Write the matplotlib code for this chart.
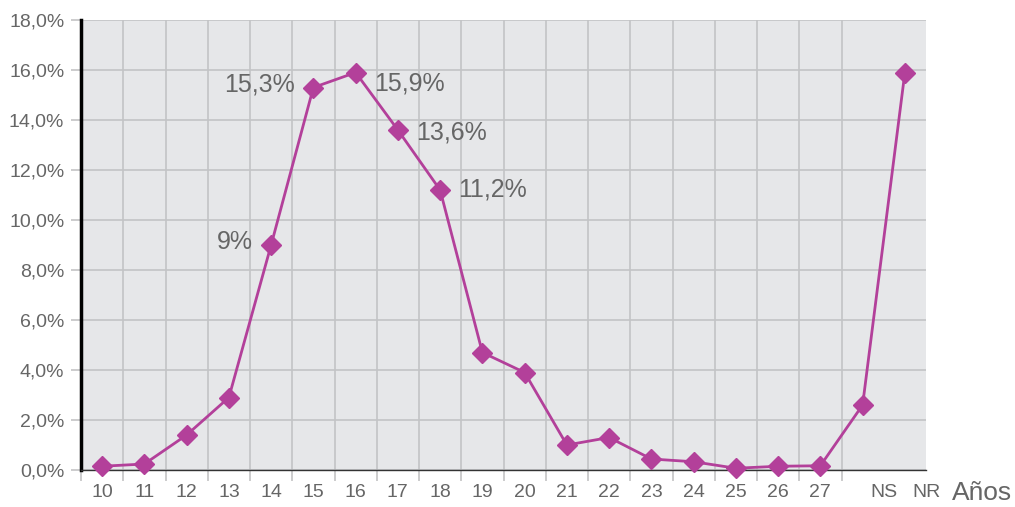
import matplotlib
matplotlib.use("Agg")
import matplotlib.pyplot as plt
from matplotlib.ticker import FuncFormatter

# === Data ===
ages = ["10", "11", "12", "13", "14", "15", "16", "17", "18", "19",
        "20", "21", "22", "23", "24", "25", "26", "27", "NS", "NR"]
values = [0.15, 0.24, 1.4, 2.9, 9.0, 15.3, 15.9, 13.6, 11.2, 4.7,
          3.9, 1.0, 1.3, 0.44, 0.33, 0.07, 0.15, 0.17, 2.6, 15.9]
# labelled points: (index, text, side, vertical shift in points)
labels = [(4, "9%", "left", 2), (5, "15,3%", "left", 2), (6, "15,9%", "right", -8),
          (7, "13,6%", "right", -2), (8, "11,2%", "right", 0)]

plt.rcParams['font.family'] = ['Liberation Sans', 'DejaVu Sans']

grey_txt = '#666666'
grid_c = '#c3c3c5'
line_c = '#b3409a'

fig = plt.figure(figsize=(10.15, 5.07), dpi=100)
ax = fig.add_axes([81 / 1015, 37 / 507, 845 / 1015, 450 / 507])
ax.set_facecolor('#e6e7e9')

x = list(range(len(ages)))
ax.plot(x, values, color=line_c, linewidth=2, marker='D', markersize=10,
        zorder=4, clip_on=False)

for i, txt, side, dy in labels:
    dx = -13 if side == "left" else 13
    ax.annotate(txt, (x[i], values[i]), xytext=(dx, dy), textcoords='offset points',
                ha='right' if side == "left" else 'left', va='center',
                fontsize=18, color=grey_txt)

# Axes
ax.set_xlim(-0.5, len(ages) - 0.5)
ax.set_ylim(0, 18)
ax.set_yticks(range(0, 19, 2))
ax.yaxis.set_major_formatter(FuncFormatter(lambda v, p: f"{v:.1f}%".replace(".", ",")))

# x labels: ages at the points, NS / NR on the right boundaries
tick_pos = x[:18] + [18.5, 19.5]
ax.set_xticks(tick_pos)
ax.set_xticklabels(ages)
ax.set_xticks([i + 0.5 for i in range(-1, len(ages))], minor=True)

ax.tick_params(axis='x', which='major', length=0, pad=10, labelsize=14, labelcolor=grey_txt)
ax.tick_params(axis='x', which='minor', length=8, color=grid_c, width=1.2)
ax.tick_params(axis='y', length=7, color=grid_c, width=1.2, pad=5,
               labelsize=14, labelcolor=grey_txt)

# Grid
ax.grid(True, axis='y', color=grid_c, linewidth=1.2)
ax.grid(True, axis='x', which='minor', color=grid_c, linewidth=1.2)
ax.set_axisbelow(True)

for s in ['top', 'right']:
    ax.spines[s].set_visible(False)
ax.spines['left'].set_color('black')
ax.spines['left'].set_linewidth(2.5)
ax.spines['bottom'].set_color('#333333')
ax.spines['bottom'].set_linewidth(1)

fig.text(1012 / 1015, 1 - 493 / 507, "Años", fontsize=19, color=grey_txt,
         ha='right', va='center')

fig.savefig("out.png", dpi=100)
